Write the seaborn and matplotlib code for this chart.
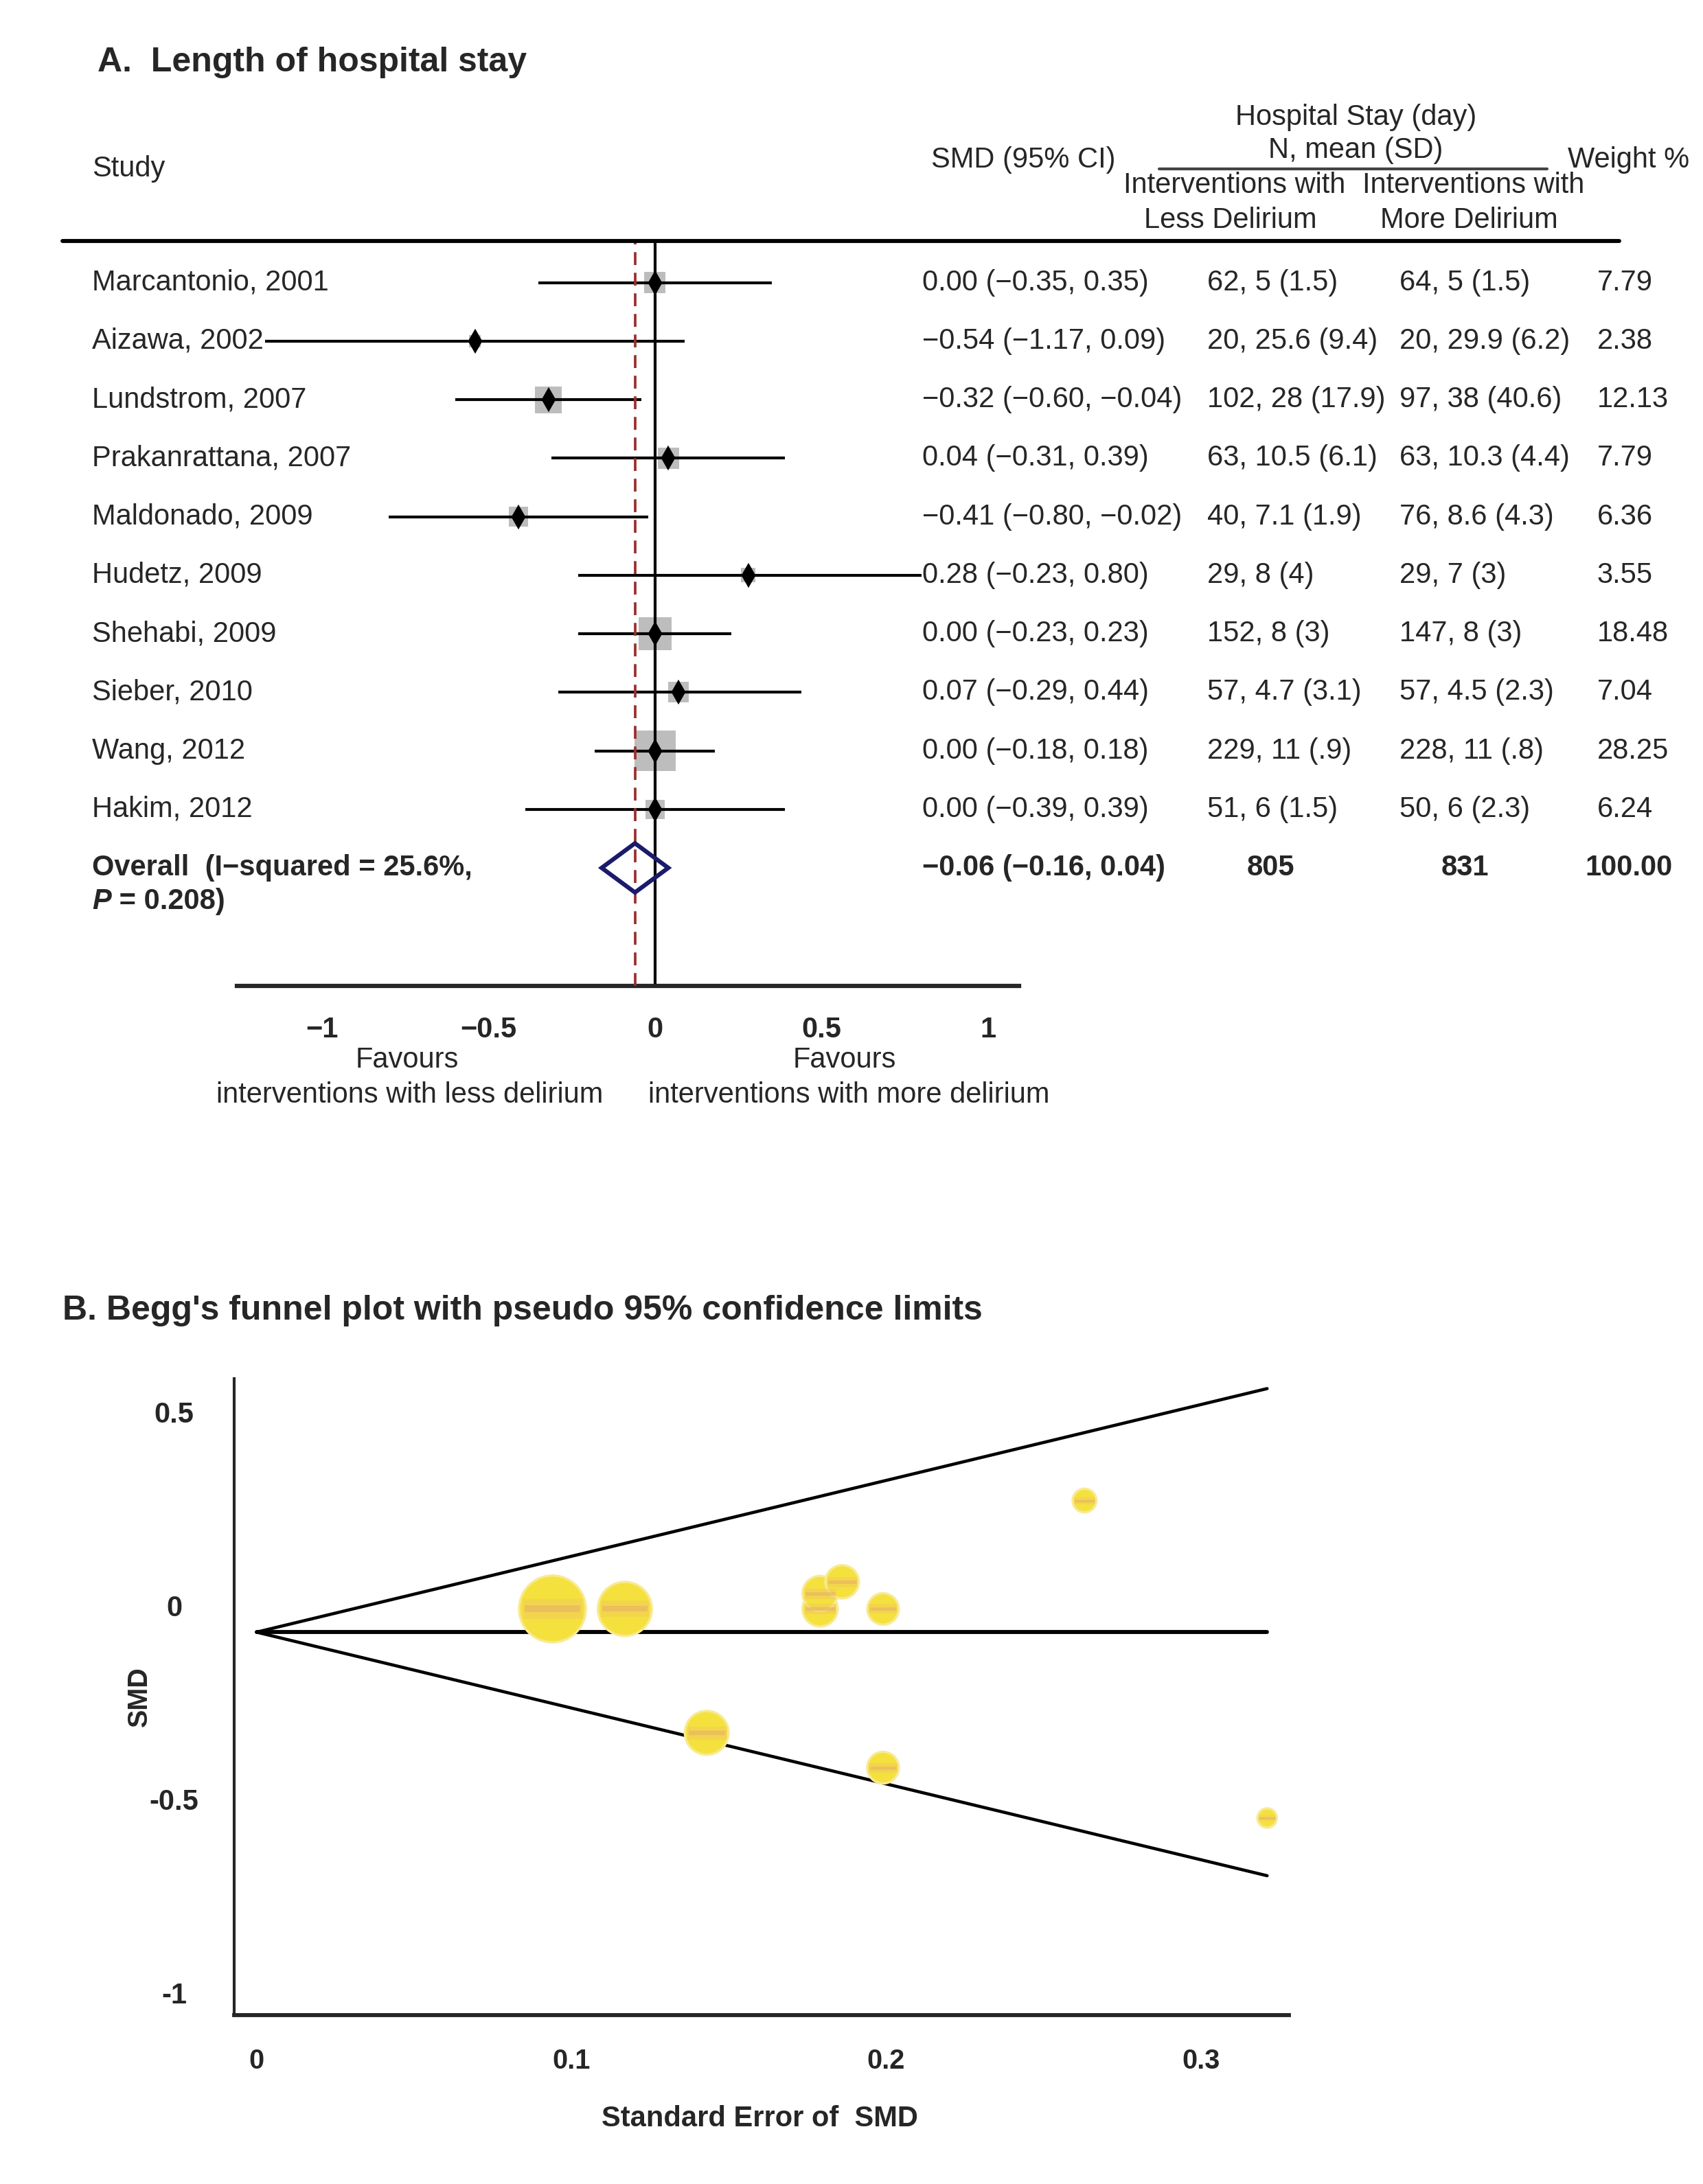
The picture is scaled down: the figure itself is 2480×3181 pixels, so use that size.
import numpy as np
import pandas as pd
import matplotlib
matplotlib.use("Agg")
import matplotlib.pyplot as plt
import matplotlib.transforms as mtransforms
from matplotlib.lines import Line2D
import seaborn as sns

# --- data ---
studies = ["Marcantonio, 2001", "Aizawa, 2002", "Lundstrom, 2007", "Prakanrattana, 2007",
           "Maldonado, 2009", "Hudetz, 2009", "Shehabi, 2009", "Sieber, 2010",
           "Wang, 2012", "Hakim, 2012"]
smd = [0.00, -0.54, -0.32, 0.04, -0.41, 0.28, 0.00, 0.07, 0.00, 0.00]
ci_low = [-0.35, -1.17, -0.60, -0.31, -0.80, -0.23, -0.23, -0.29, -0.18, -0.39]
ci_high = [0.35, 0.09, -0.04, 0.39, -0.02, 0.80, 0.23, 0.44, 0.18, 0.39]
less_group = ["62, 5 (1.5)", "20, 25.6 (9.4)", "102, 28 (17.9)", "63, 10.5 (6.1)", "40, 7.1 (1.9)",
              "29, 8 (4)", "152, 8 (3)", "57, 4.7 (3.1)", "229, 11 (.9)", "51, 6 (1.5)"]
more_group = ["64, 5 (1.5)", "20, 29.9 (6.2)", "97, 38 (40.6)", "63, 10.3 (4.4)", "76, 8.6 (4.3)",
              "29, 7 (3)", "147, 8 (3)", "57, 4.5 (2.3)", "228, 11 (.8)", "50, 6 (2.3)"]
weights = [7.79, 2.38, 12.13, 7.79, 6.36, 3.55, 18.48, 7.04, 28.25, 6.24]
se = [0.179, 0.321, 0.143, 0.179, 0.199, 0.263, 0.117, 0.186, 0.094, 0.199]

pooled_smd, pooled_low, pooled_high = -0.06, -0.16, 0.04
total_less, total_more, total_weight = 805, 831, 100.00
i_squared, p_het = 25.6, 0.208

forest_ticks = [-1, -0.5, 0, 0.5, 1]
funnel_xticks = [0, 0.1, 0.2, 0.3]
funnel_yticks = [0.5, 0, -0.5, -1]

sns.set_style("white")
plt.rcParams['font.family'] = ['Liberation Sans', 'DejaVu Sans']
plt.rcParams['font.size'] = 10

MINUS = "\u2212"


def fmt(v):
    return f"{v:.2f}".replace("-", MINUS)


df = pd.DataFrame({"study": studies, "smd": smd, "low": ci_low, "high": ci_high,
                   "weight": weights, "se": se})
df["row"] = np.arange(len(df))
overall_row = len(df)

fig = plt.figure(figsize=(2480 / 300, 3181 / 300), dpi=300)

# ================= A. forest plot =================
ax = fig.add_axes([0.1391, 0.5485, 0.4591, 0.3412])
ax.set_xlim(-1.255, 1.092)
ax.set_ylim(12.02, -0.714)

sns.scatterplot(data=df, x="smd", y="row", size="weight", sizes=(0, 205), size_norm=(0, 28.25),
                marker="s", color="#BDBDBD", edgecolor="none", linewidth=0, legend=False,
                ax=ax, zorder=1)
ax.hlines(df["row"], df["low"], df["high"], color="black", lw=1.0, zorder=2)
ax.plot(df["smd"], df["row"], linestyle="none", marker="d", color="black", ms=4.6, zorder=3)

ax.axvline(0, color="black", lw=1.0, zorder=2)
ax.axvline(pooled_smd, color="#9B2F2F", lw=0.9, dashes=(5, 3), zorder=4)

h = 0.42
ax.fill([pooled_low, pooled_smd, pooled_high, pooled_smd],
        [overall_row, overall_row - h, overall_row, overall_row + h],
        fill=False, edgecolor="#1b1b6b", lw=1.5, zorder=5)

for s in ["left", "right", "top"]:
    ax.spines[s].set_visible(False)
ax.spines["bottom"].set_linewidth(1.5)
ax.set_yticks([])
ax.set_xticks(forest_ticks)
ax.set_xticklabels([("%g" % t).replace("-", MINUS) for t in forest_ticks], fontweight="bold")
ax.tick_params(axis="x", length=5.5, width=1.0, pad=5, labelsize=10, color="black")
ax.set_xlabel("")
ax.set_ylabel("")

trans = mtransforms.blended_transform_factory(fig.transFigure, ax.transData)
for i, r in df.iterrows():
    y = r["row"]
    ax.text(0.0540, y, r["study"], transform=trans, ha="left", va="center", fontsize=10)
    ax.text(0.5417, y, f"{fmt(r['smd'])} ({fmt(r['low'])}, {fmt(r['high'])})",
            transform=trans, ha="left", va="center", fontsize=10)
    ax.text(0.7087, y, less_group[i], transform=trans, ha="left", va="center", fontsize=10)
    ax.text(0.8216, y, more_group[i], transform=trans, ha="left", va="center", fontsize=10)
    ax.text(0.9378, y, f"{r['weight']:.2f}", transform=trans, ha="left", va="center", fontsize=10)

ax.text(0.0540, overall_row, f"Overall  (I{MINUS}squared = {i_squared}%,", transform=trans,
        ha="left", va="center", fontsize=10, fontweight="bold")
ptxt = ax.text(0.0540, overall_row + 0.57, "P", transform=trans, ha="left", va="center",
               fontsize=10, fontweight="bold", fontstyle="italic")
ax.annotate(f" = {p_het})", xy=(1, 0.5), xycoords=ptxt, ha="left", va="center",
            fontsize=10, fontweight="bold")
ax.text(0.5417, overall_row, f"{fmt(pooled_smd)} ({fmt(pooled_low)}, {fmt(pooled_high)})",
        transform=trans, ha="left", va="center", fontsize=10, fontweight="bold")
ax.text(0.7463, overall_row, str(total_less), transform=trans, ha="center", va="center",
        fontsize=10, fontweight="bold")
ax.text(0.8601, overall_row, str(total_more), transform=trans, ha="center", va="center",
        fontsize=10, fontweight="bold")
ax.text(0.9566, overall_row, f"{total_weight:.2f}", transform=trans, ha="center", va="center",
        fontsize=10, fontweight="bold")

# header
fig.text(0.0573, 0.9713, "A.  Length of hospital stay", fontsize=12, fontweight="bold",
         ha="left", va="center")
fig.text(0.0540, 0.9228, "Study", ha="left", va="center")
fig.text(0.5466, 0.9267, "SMD (95% CI)", ha="left", va="center")
fig.text(0.7962, 0.9464, "Hospital Stay (day)", ha="center", va="center")
fig.text(0.7962, 0.9311, "N, mean (SD)", ha="center", va="center")
fig.add_artist(Line2D([0.6808, 0.9083], [0.9228, 0.9228], color="#444444", lw=1.0))
fig.text(0.7250, 0.9152, "Interventions with", ha="center", va="center")
fig.text(0.8650, 0.9152, "Interventions with", ha="center", va="center")
fig.text(0.7226, 0.8992, "Less Delirium", ha="center", va="center")
fig.text(0.8625, 0.8992, "More Delirium", ha="center", va="center")
fig.text(0.9206, 0.9267, "Weight %", ha="left", va="center")
fig.add_artist(Line2D([0.0368, 0.9509], [0.8897, 0.8897], color="black", lw=1.4))

fig.text(0.2390, 0.5147, "Favours", ha="center", va="center")
fig.text(0.2406, 0.4987, "interventions with less delirium", ha="center", va="center")
fig.text(0.4959, 0.5147, "Favours", ha="center", va="center")
fig.text(0.4984, 0.4987, "interventions with more delirium", ha="center", va="center")

# ================= B. funnel plot =================
bx = fig.add_axes([0.1375, 0.0772, 0.6195, 0.2914])
bx.set_xlim(-0.0071, 0.328)
bx.set_ylim(-1.05, 0.594)

se_line = np.array([0, max(se)])
bx.plot(se_line, pooled_smd + 1.96 * se_line, color="black", lw=1.1, zorder=1)
bx.plot(se_line, pooled_smd - 1.96 * se_line, color="black", lw=1.1, zorder=1)
bx.plot(se_line, [pooled_smd, pooled_smd], color="black", lw=1.4, zorder=1)

sns.scatterplot(data=df, x="se", y="smd", size="weight", sizes=(0, 545), size_norm=(0, 28.25),
                color="#F5E13E", edgecolor="#F8EA94", linewidth=0.8, legend=False,
                ax=bx, zorder=3)
# soft orange band through the middle, mimicking the shaded bubbles
sizes = np.array(weights) / 28.25 * 545
bx.scatter(df["se"], df["smd"], s=sizes * 0.80, marker="_",
           linewidths=np.sqrt(sizes) * 0.30, color="#EFC760", alpha=0.45, zorder=4)
bx.scatter(df["se"], df["smd"], s=sizes * 0.70, marker="_",
           linewidths=np.sqrt(sizes) * 0.10, color="#E3A56E", alpha=0.45, zorder=5)

for s in ["right", "top"]:
    bx.spines[s].set_visible(False)
bx.spines["left"].set_linewidth(1.0)
bx.spines["bottom"].set_linewidth(1.4)
bx.set_xticks(funnel_xticks)
bx.set_xticklabels(["%g" % t for t in funnel_xticks], fontweight="bold")
bx.set_yticks(funnel_yticks)
bx.set_yticklabels([])
bx.tick_params(axis="x", length=5.5, width=1.0, pad=6, labelsize=9.5)
bx.tick_params(axis="y", length=6, width=1.3)
bx.set_xlabel("")
bx.set_ylabel("")

ytrans = mtransforms.blended_transform_factory(fig.transFigure, bx.transData)
for t in funnel_yticks:
    bx.text(0.1023, t, "%g" % t, transform=ytrans, ha="center", va="center",
            fontsize=10, fontweight="bold")

fig.text(0.0368, 0.3999, "B. Begg's funnel plot with pseudo 95% confidence limits",
         fontsize=12, fontweight="bold", ha="left", va="center")
fig.text(0.0818, 0.2232, "SMD", rotation=90, fontsize=9.5, fontweight="bold",
         ha="center", va="center")
fig.text(0.446, 0.0300, "Standard Error of  SMD", fontsize=10, fontweight="bold",
         ha="center", va="center")

fig.savefig("out.png", dpi=300)
